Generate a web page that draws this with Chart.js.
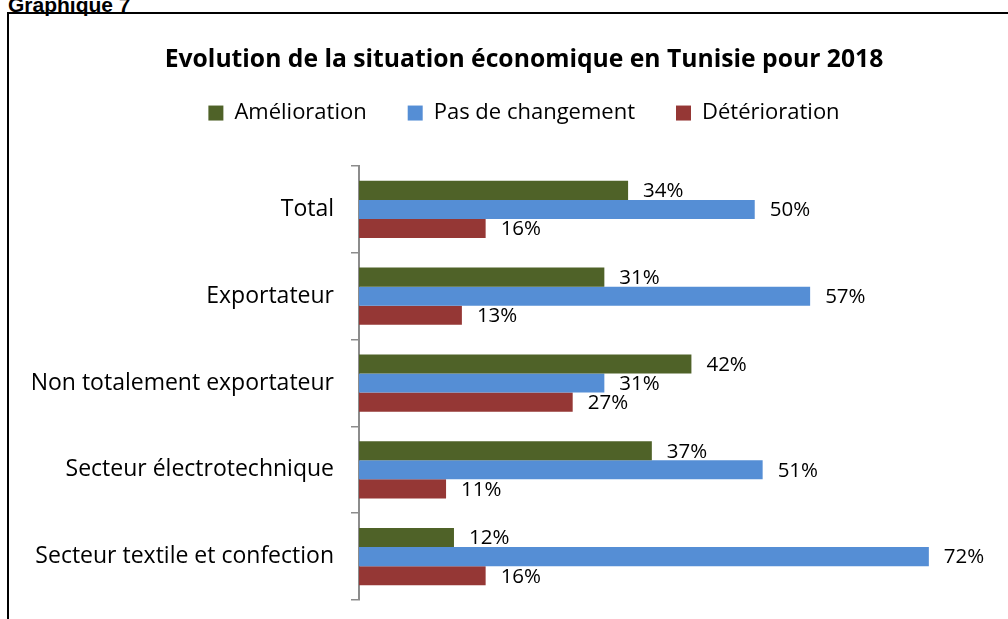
<!DOCTYPE html>
<html>
<head>
<meta charset="utf-8">
<script src="https://cdn.jsdelivr.net/npm/chart.js@4.4.0/dist/chart.umd.min.js"></script>
<style>
	body { margin: 0; background: #fff; }
	#wrap { position: relative; width: 1008px; height: 619px; overflow: hidden; }
	#caption { position: absolute; left: 8px; top: -5px; font: bold 21px "Liberation Sans", Arial, sans-serif; line-height: 20px; }
	#frame { position: absolute; left: 7px; top: 12px; width: 1100px; height: 700px; border: 2px solid #000; }
	#mycanvas { position: absolute; left: 0; top: 0; }
</style>
</head>
<body>
<div id="wrap">
	<div id="caption">Graphique 7</div>
	<div id="frame"></div>
	<canvas id="mycanvas" width="1008" height="619"></canvas>
</div>
<script>
var categories = ["Total", "Exportateur", "Non totalement exportateur", "Secteur électrotechnique", "Secteur textile et confection"];
var amelioration = [34, 31, 42, 37, 12];
var pasDeChangement = [50, 57, 31, 51, 72];
var deterioration = [16, 13, 27, 11, 16];

// value labels at the end of each bar
var valueLabels = {
	id: 'valueLabels',
	afterDatasetsDraw: function(chart) {
		var ctx = chart.ctx;
		ctx.save();
		ctx.font = '20.5px "Open Sans"';
		ctx.fillStyle = '#000';
		ctx.textAlign = 'left';
		ctx.textBaseline = 'middle';
		chart.data.datasets.forEach(function(ds, i) {
			chart.getDatasetMeta(i).data.forEach(function(bar, j) {
				ctx.fillText(ds.data[j] + '%', bar.x + 15, bar.y + 1);
			});
		});
		ctx.restore();
	}
};

// extra room between legend and plot
var legendSpace = {
	id: 'legendSpace',
	beforeInit: function(chart) {
		var fit = chart.legend.fit;
		chart.legend.fit = function() {
			fit.call(this);
			this.height += 32;
		};
	}
};

Chart.defaults.font.family = '"Open Sans"';
Chart.defaults.color = '#000';

var chartdata = {
	labels: categories,
	datasets: [
		{ label: 'Amélioration', backgroundColor: '#4F6228', data: amelioration },
		{ label: 'Pas de changement', backgroundColor: '#558ED5', data: pasDeChangement },
		{ label: 'Détérioration', backgroundColor: '#953735', data: deterioration }
	]
};

var ctx = document.getElementById('mycanvas');

var barGraph = new Chart(ctx, {
	type: 'bar',
	data: chartdata,
	plugins: [valueLabels, legendSpace],
	options: {
		indexAxis: 'y',
		responsive: false,
		animation: false,
		categoryPercentage: 0.66,
		barPercentage: 1.0,
		// the frame runs past the right edge of the picture
		layout: { padding: { left: 10, right: -30, top: 0, bottom: 19 } },
		plugins: {
			title: {
				display: true,
				text: 'Evolution de la situation économique en Tunisie pour 2018',
				font: { size: 24.7, weight: 'bold' },
				color: '#000',
				padding: { top: 45.2, bottom: -13.8 }
			},
			legend: {
				labels: { boxWidth: 15, boxHeight: 15, padding: 41, font: { size: 22 }, color: '#000' }
			},
			tooltip: { enabled: false }
		},
		scales: {
			x: { display: false, min: 0, max: 82 },
			y: {
				afterFit: function(scale) {
					scale.width = 349;
					scale.paddingTop = 0;
					scale.paddingBottom = 0;
				},
				ticks: { font: { size: 23 }, color: '#000', padding: 17 },
				grid: { display: true, drawOnChartArea: false, drawTicks: true, tickLength: 8, color: '#8c8c8c', lineWidth: 1.5 },
				border: { display: true, color: '#8c8c8c', width: 2 }
			}
		}
	}
});
</script>
</body>
</html>
